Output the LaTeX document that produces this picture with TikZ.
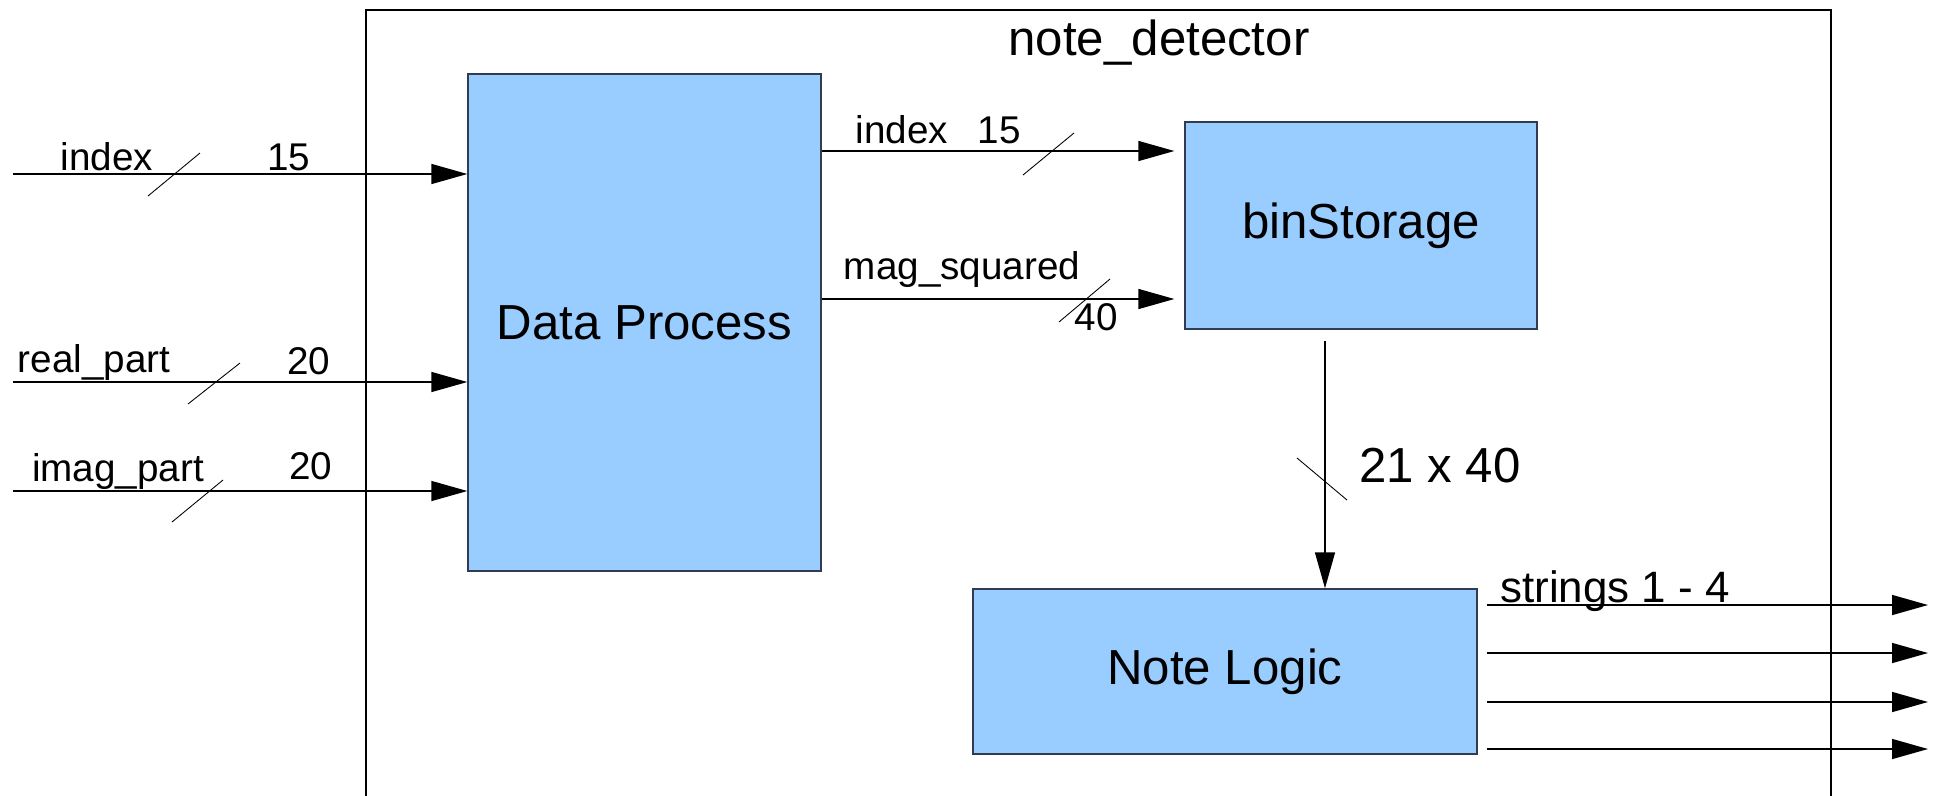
\documentclass[tikz,border=0pt]{standalone}
\usepackage{fontspec}
\setmainfont{Liberation Sans}
\usetikzlibrary{arrows.meta}

\definecolor{blockblue}{RGB}{153,204,255}
\definecolor{blockedge}{RGB}{50,60,80}

\tikzset{
	block/.style={draw=blockedge, fill=blockblue, line width=0.8pt, inner sep=0pt, font=\fontsize{28}{30}\selectfont},
	bus/.style={line width=0.8pt, -{Triangle[length=0.72cm,width=0.4cm]}},
	slash/.style={line width=0.5pt},
	lbl/.style={anchor=base, inner sep=0pt, font=\fontsize{22}{24}\selectfont},
	biglbl/.style={anchor=base, inner sep=0pt, font=\fontsize{28}{30}\selectfont}
}

\begin{document}
\begin{tikzpicture}[x=0.02cm, y=-0.02cm]
	\useasboundingbox (0,0) rectangle (1933,795);

	% outer module, open at the bottom
	\node[draw, line width=0.8pt, minimum width=29.3cm, minimum height=16cm] (detector) at (1098.5,410) {};
	\node[biglbl] (title) at (1159,55) {note\_detector};

	% sub-blocks
	\node[block, minimum width=7.06cm, minimum height=9.94cm] (dp) at (644.5,322.5) {Data Process};
	\node[block, minimum width=7.04cm, minimum height=4.14cm] (bin) at (1361,225.5) {binStorage};
	\node[block, minimum width=10.08cm, minimum height=3.3cm] (logic) at (1225,671.5) {Note Logic};

	% inputs
	\coordinate (in1) at (13,174);
	\coordinate (in2) at (13,382);
	\coordinate (in3) at (13,491);
	\draw[bus] (in1) -- (in1 -| dp.west);
	\draw[bus] (in2) -- (in2 -| dp.west);
	\draw[bus] (in3) -- (in3 -| dp.west);
	\draw[slash] (148,196) -- ++(52,-43);
	\draw[slash] (188,404) -- ++(52,-41);
	\draw[slash] (172,522) -- ++(51,-42);
	\node[lbl] (l1) at (107,170) {index};
	\node[lbl] (w1) at (289,170) {15};
	\node[lbl] (l2) at (94,372) {real\_part};
	\node[lbl] (w2) at (309,374) {20};
	\node[lbl] (l3) at (118,481) {imag\_part};
	\node[lbl] (w3) at (311,479) {20};

	% data process -> bin storage
	\coordinate (idxrow) at (0,151);
	\coordinate (magrow) at (0,299);
	\draw[bus, shorten >=0.2cm] (dp.east |- idxrow) -- (bin.west |- idxrow);
	\draw[bus, shorten >=0.2cm] (dp.east |- magrow) -- (bin.west |- magrow);
	\draw[slash] (1023,175) -- ++(51,-42);
	\draw[slash] (1059,322) -- ++(51,-43);
	\node[lbl] (l4) at (902,143) {index};
	\node[lbl] (w4) at (999,143) {15};
	\node[lbl] (l5) at (962,279) {mag\_squared};
	\node[lbl] (w5) at (1096,330) {40};

	% bin storage -> note logic
	\coordinate (drop) at (1325,0);
	\draw[bus, shorten <=0.22cm] (bin.south -| drop) -- (logic.north -| drop);
	\draw[slash] (1297,458) -- ++(50,42);
	\node[biglbl] (w6) at (1440,482) {21 x 40};

	% outputs
	\foreach \i/\y in {1/605,2/653,3/702,4/749} {
		\coordinate (out\i) at (1928,\y);
		\draw[bus, shorten <=0.18cm] (logic.east |- out\i) -- (out\i);
	}
	\node[lbl, font=\fontsize{25}{27}\selectfont] (l7) at (1615,602) {strings 1 - 4};
\end{tikzpicture}
\end{document}
